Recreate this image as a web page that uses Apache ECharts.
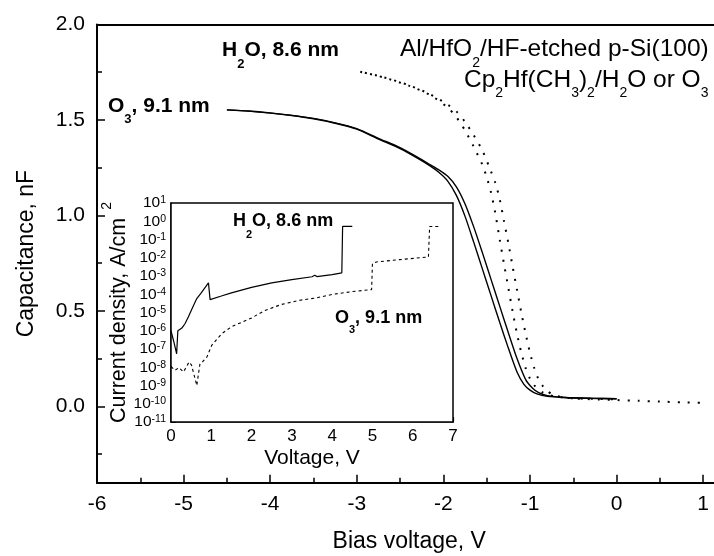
<!DOCTYPE html>
<html><head><meta charset="utf-8">
<script src="https://cdn.jsdelivr.net/npm/echarts@6/dist/echarts.min.js"></script>
<style>html,body{margin:0;padding:0;background:#fff}#c{width:714px;height:556px}</style>
</head><body><div id="c"></div>
<script>
// ---- main C-V curves ----
const o3SweepA_V = [-4.5,-4.25,-4.0,-3.75,-3.5,-3.25,-3.0,-2.75,-2.5,-2.3,-2.15,-2.05,-1.95,-1.85,-1.75,-1.65,-1.55,-1.45,-1.35,-1.25,-1.15,-1.07,-1.0,-0.92,-0.8,-0.6,-0.3,0];
const o3SweepA_C = [1.553,1.546,1.536,1.523,1.506,1.483,1.452,1.40,1.35,1.30,1.258,1.225,1.18,1.105,0.995,0.86,0.72,0.58,0.44,0.305,0.18,0.115,0.085,0.065,0.052,0.046,0.042,0.04];
const o3SweepB_V = [-4.5,-4.25,-4.0,-3.75,-3.5,-3.25,-3.0,-2.75,-2.5,-2.3,-2.15,-2.05,-1.95,-1.85,-1.75,-1.65,-1.55,-1.45,-1.35,-1.25,-1.15,-1.05,-0.97,-0.9,-0.8,-0.6,-0.3,0];
const o3SweepB_C = [1.553,1.547,1.537,1.524,1.508,1.485,1.455,1.404,1.355,1.305,1.265,1.238,1.205,1.15,1.06,0.94,0.805,0.665,0.525,0.385,0.25,0.14,0.095,0.072,0.056,0.046,0.042,0.04];
const h2oSweepA_V = [-2.96,-2.7,-2.4,-2.15,-1.95,-1.85,-1.75,-1.65,-1.55,-1.5,-1.45,-1.4,-1.35,-1.3,-1.25,-1.2,-1.15,-1.1,-1.05,-1.0,-0.95,-0.9,-0.85,-0.8,-0.7,-0.5,-0.25,0];
const h2oSweepA_C = [1.752,1.724,1.68,1.63,1.565,1.515,1.445,1.36,1.265,1.2,1.12,1.01,0.875,0.745,0.62,0.495,0.38,0.28,0.2,0.145,0.11,0.088,0.072,0.062,0.05,0.042,0.039,0.037];
const h2oSweepB_V = [-2.96,-2.7,-2.4,-2.15,-1.95,-1.85,-1.75,-1.65,-1.55,-1.45,-1.4,-1.35,-1.3,-1.25,-1.2,-1.15,-1.1,-1.05,-1.0,-0.95,-0.9,-0.85,-0.8,-0.73,-0.6,-0.4,-0.2,0,0.25,0.5,0.75,1.0,1.05];
const h2oSweepB_C = [1.752,1.725,1.682,1.634,1.58,1.545,1.49,1.42,1.34,1.23,1.17,1.085,0.97,0.855,0.73,0.61,0.49,0.38,0.28,0.2,0.14,0.105,0.08,0.06,0.046,0.039,0.036,0.033,0.029,0.025,0.021,0.018,0.017];

// ---- inset J-V curves ----
const h2oJV_V = [0,0.07,0.14,0.17,0.27,0.35,0.43,0.55,0.64,0.75,0.93,0.97,1.25,1.5,2.0,2.5,3.0,3.5,3.57,3.62,4.0,4.24,4.26,4.5];
const h2oJV_J = [1.0e-6,2.5e-7,5.5e-8,1.0e-6,1.4e-6,2.5e-6,5.6e-6,2.2e-5,5.8e-5,1.2e-4,4.2e-4,5.1e-5,8e-5,1.2e-4,2.4e-4,4.2e-4,6.3e-4,9.1e-4,1.1e-3,9.3e-4,1.2e-3,1.5e-3,0.52,0.52];
const o3JV_V = [0,0.1,0.2,0.31,0.45,0.51,0.64,0.72,0.78,0.89,1.01,1.26,1.51,2.0,2.33,2.75,3.2,3.6,4.03,4.5,4.98,5.0,5.1,5.68,6.39,6.42,6.66];
const o3JV_J = [1.1e-8,6.8e-9,9.5e-9,5.5e-9,1.95e-8,1.3e-8,1.0e-9,1.6e-8,1.95e-8,3.6e-8,1.6e-7,6.9e-7,1.7e-6,5.0e-6,1.3e-5,2.8e-5,4.7e-5,6.3e-5,1.0e-4,1.4e-4,1.8e-4,4.8e-3,5.9e-3,7.9e-3,1.1e-2,0.52,0.52];

// ---- axis ticks ----
const mainXTicks = [-6,-5,-4,-3,-2,-1,0,1];
const mainYTicks = [0,0.5,1.0,1.5,2.0];
const insetXTicks = [0,1,2,3,4,5,6,7];
const insetYExponents = [-11,-10,-9,-8,-7,-6,-5,-4,-3,-2,-1,0,1];

const FONT = "'Liberation Sans', Arial, Helvetica, sans-serif";
const zip = (a, b) => a.map((v, i) => [v, b[i]]);

function richLabel(x, y, parts, fs, ss, off, bold) {
  const L = Math.round(fs * 1.15);
  const w = bold ? 'bold' : 'normal';
  return {
    type: 'text', x: x, y: y, z: 100,
    style: {
      text: parts.map(p => '{' + p[1] + '|' + p[0] + '}').join(''),
      align: 'left', verticalAlign: 'top',
      rich: {
        n: {fontFamily: FONT, fontSize: fs, fontWeight: w, lineHeight: L, verticalAlign: 'top', fill: '#000'},
        s: {fontFamily: FONT, fontSize: ss, fontWeight: w, lineHeight: ss, verticalAlign: 'top', padding: [off, 0, 0, 0], fill: '#000'}
      }
    }
  };
}

const chart = echarts.init(document.getElementById('c'), null, {renderer: 'canvas'});
const mainLine = {color: '#000', width: 1.4};
const dotLine = {color: '#000', width: 2, type: [2, 8], cap: 'butt'};
const option = {
  animation: false,
  backgroundColor: '#fff',
  grid: [
    {left: 97, top: 24.5, width: 649.5, height: 458.2, outerBoundsMode: 'none', containLabel: false},
    {left: 171, top: 203, width: 282, height: 219, outerBoundsMode: 'none', containLabel: false,
     show: true, backgroundColor: '#fff', borderColor: '#000', borderWidth: 1.5, z: 5}
  ],
  xAxis: [
    {gridIndex: 0, type: 'value', min: mainXTicks[0], max: 1.5, interval: 1, position: 'bottom',
     axisLine: {show: true, onZero: false, lineStyle: {color: '#000', width: 2}},
     axisTick: {inside: true, length: 8, lineStyle: {color: '#000', width: 1.5}},
     minorTick: {show: true, splitNumber: 2, length: 5, lineStyle: {color: '#000', width: 1.5}},
     splitLine: {show: false},
     axisLabel: {fontSize: 21, color: '#000', fontFamily: FONT, margin: 11, showMaxLabel: false,
                 formatter: v => mainXTicks.indexOf(v) >= 0 ? String(v) : ''},
     name: 'Bias voltage, V', nameLocation: 'middle', nameGap: 47,
     nameTextStyle: {fontSize: 23, fontFamily: FONT, color: '#000', padding: [0, 25, 0, 0]}},
    {gridIndex: 0, type: 'value', min: mainXTicks[0], max: 1.5, position: 'top',
     axisLine: {show: true, onZero: false, lineStyle: {color: '#000', width: 2}},
     axisTick: {show: false}, axisLabel: {show: false}, splitLine: {show: false}},
    {gridIndex: 1, type: 'value', min: insetXTicks[0], max: insetXTicks[insetXTicks.length - 1], interval: 1, position: 'bottom',
     axisLine: {show: true, onZero: false, lineStyle: {color: '#777', width: 2}},
     axisTick: {inside: true, length: 5, lineStyle: {color: '#000', width: 1.2}},
     minorTick: {show: true, splitNumber: 2, length: 4, lineStyle: {color: '#000', width: 1.2}},
     splitLine: {show: false},
     axisLabel: {fontSize: 17, color: '#000', fontFamily: FONT, margin: 6},
     name: 'Voltage, V', nameLocation: 'middle', nameGap: 26,
     nameTextStyle: {fontSize: 21, fontFamily: FONT, color: '#000'}}
  ],
  yAxis: [
    {gridIndex: 0, type: 'value', min: -0.4, max: mainYTicks[mainYTicks.length - 1], splitNumber: 5,
     axisLine: {show: true, onZero: false, lineStyle: {color: '#000', width: 2}},
     axisTick: {inside: true, length: 8, lineStyle: {color: '#000', width: 1.5}},
     minorTick: {show: true, splitNumber: 2, length: 5, lineStyle: {color: '#000', width: 1.5}},
     splitLine: {show: false},
     axisLabel: {fontSize: 21, color: '#000', fontFamily: FONT, margin: 12, showMinLabel: false,
                 formatter: v => v.toFixed(1)},
     name: 'Capacitance, nF', nameLocation: 'middle', nameGap: 59,
     nameTextStyle: {fontSize: 23, fontFamily: FONT, color: '#000'}},
    {gridIndex: 1, type: 'log', logBase: 10, min: Math.pow(10, insetYExponents[0]), max: Math.pow(10, insetYExponents[insetYExponents.length - 1]), interval: 1, splitNumber: 12,
     axisLine: {show: true, onZero: false, lineStyle: {color: '#000', width: 1.5}},
     axisTick: {inside: true, length: 5, lineStyle: {color: '#000', width: 1}},
     minorTick: {show: true, splitNumber: 4, length: 3, lineStyle: {color: '#000', width: 1}},
     splitLine: {show: false},
     axisLabel: {margin: 5, color: '#000', showMinLabel: true, showMaxLabel: true, hideOverlap: false,
       formatter: v => '{a|10}{b|' + Math.round(Math.log10(v)) + '}',
       rich: {
         a: {fontFamily: FONT, fontSize: 15.5, lineHeight: 16, verticalAlign: 'bottom', color: '#000'},
         b: {fontFamily: FONT, fontSize: 10.5, lineHeight: 2, verticalAlign: 'top', color: '#000'}
       }},
     name: '{n|Current density, A/cm}{p|2}', nameLocation: 'middle', nameGap: 36,
     nameTextStyle: {rich: {
       n: {fontFamily: FONT, fontSize: 21.5, lineHeight: 24, padding: [8, 0, 0, 0], verticalAlign: 'top', color: '#000'},
       p: {fontFamily: FONT, fontSize: 14, lineHeight: 14, padding: [0, 0, 0, 8], verticalAlign: 'top', color: '#000'}
     }}}
  ],
  series: [
    {type: 'line', xAxisIndex: 0, yAxisIndex: 0, data: zip(o3SweepA_V, o3SweepA_C), showSymbol: false, smooth: 0.25, silent: true, lineStyle: mainLine},
    {type: 'line', xAxisIndex: 0, yAxisIndex: 0, data: zip(o3SweepB_V, o3SweepB_C), showSymbol: false, smooth: 0.25, silent: true, lineStyle: mainLine},
    {type: 'line', xAxisIndex: 0, yAxisIndex: 0, data: zip(h2oSweepA_V, h2oSweepA_C), showSymbol: false, smooth: 0.25, silent: true, lineStyle: dotLine},
    {type: 'line', xAxisIndex: 0, yAxisIndex: 0, data: zip(h2oSweepB_V, h2oSweepB_C), showSymbol: false, smooth: 0.25, silent: true, lineStyle: Object.assign({}, dotLine, {dashOffset: 5})},
    {type: 'line', xAxisIndex: 2, yAxisIndex: 1, data: zip(h2oJV_V, h2oJV_J), showSymbol: false, silent: true, z: 10, lineStyle: {color: '#000', width: 1.2}},
    {type: 'line', xAxisIndex: 2, yAxisIndex: 1, data: zip(o3JV_V, o3JV_J), showSymbol: false, silent: true, z: 10, lineStyle: {color: '#000', width: 1.1, type: [3, 3]}}
  ],
  graphic: [
    richLabel(108, 95.5, [['O', 'n'], ['3', 's'], [', 9.1 nm', 'n']], 21, 13, 17.5, true),
    richLabel(222, 40, [['H', 'n'], ['2', 's'], ['O, 8.6 nm', 'n']], 21, 13, 17.5, true),
    richLabel(400, 37, [['Al/HfO', 'n'], ['2', 's'], ['/HF-etched p-Si(100)', 'n']], 24.5, 14, 19, false),
    richLabel(464, 68, [['Cp', 'n'], ['2', 's'], ['Hf(CH', 'n'], ['3', 's'], [')', 'n'], ['2', 's'], ['/H', 'n'], ['2', 's'], ['O or O', 'n'], ['3', 's']], 24.5, 14, 18, false),
    richLabel(233, 212.5, [['H', 'n'], ['2', 's'], ['O, 8.6 nm', 'n']], 18, 11, 17, true),
    richLabel(335, 309.5, [['O', 'n'], ['3', 's'], [', 9.1 nm', 'n']], 18, 11, 15, true)
  ]
};
chart.setOption(option);
</script>
</body></html>
